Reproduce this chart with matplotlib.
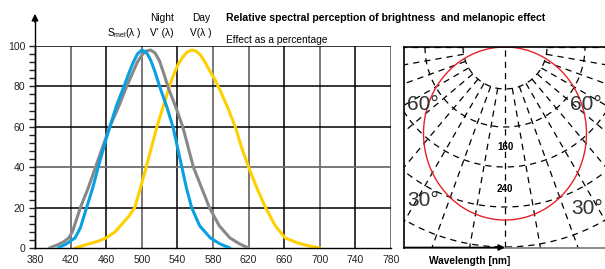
import numpy as np
import matplotlib.pyplot as plt

plt.rcParams['font.family'] = ['Liberation Sans', 'DejaVu Sans']

# spectral curves (wavelength nm, relative %)
mel_wl = [406, 415, 425, 431, 438, 445, 451, 458, 464, 472, 480, 485, 490, 495, 500, 505, 510, 515, 520, 528, 535, 540, 545, 550, 556, 565, 577, 588, 599]
mel_val = [0, 2, 5, 10, 20, 30, 40, 51, 60, 71, 80, 86, 91.5, 96, 98, 97, 93, 87, 80, 70, 60, 50, 40, 30, 20, 11, 5, 2, 0]

night_wl = [396, 405, 412, 418, 422, 431, 440, 448, 456, 464, 474, 483, 490, 495, 500, 505, 510, 515, 520, 525, 530, 538, 546, 552, 558, 567, 576, 587, 599, 610, 620]
night_val = [0, 1.5, 3, 5, 8, 20, 30, 40, 50, 60, 70, 80, 87, 92, 95.5, 97.5, 98, 96.5, 92.5, 86, 79, 70, 60, 50, 40, 30, 20, 11, 5, 2, 0]

day_wl = [425, 440, 452, 460, 470, 478, 486, 492, 498, 505, 511, 517, 524, 531, 536, 541, 546, 551, 556, 561, 566, 571, 576, 582, 588, 597, 605, 612, 620, 629, 639, 650, 661, 675, 688, 700]
day_val = [0, 2, 3.5, 5, 8, 12, 16, 20, 29, 40, 50, 60, 70, 80, 86, 91, 94.5, 97, 98, 97.5, 95.5, 92, 88, 83.5, 78, 69, 60, 50, 40, 30, 20, 11, 5, 2.5, 1, 0]

x_ticks = list(range(380, 781, 40))
y_ticks = list(range(0, 101, 20))
grey_vlines = [420, 500, 580, 620, 700, 780]
black_vlines = [460, 540, 660, 740]
grey_hlines = [40]
black_hlines = [20, 60, 80, 100]

# polar diagram (right panel)
polar_angles = [a for a in range(-90, 91, 10) if a != 0]
polar_radii = [42, 80, 120, 160, 200]
polar_labels = ['160', '240']

W, H = 605, 269
fig = plt.figure(figsize=(W / 100, H / 100), dpi=100)

ax = fig.add_axes([35 / W, 21 / H, 356 / W, 202 / H])
ax.set_xlim(380, 780)
ax.set_ylim(0, 100)
for s in ['top', 'right']:
    ax.spines[s].set_visible(False)
ax.spines['left'].set_linewidth(1)
ax.spines['bottom'].set_linewidth(1)

ax.vlines(grey_vlines, 0, 100, color='#6e6e6e', lw=1.3, zorder=1)
ax.vlines(black_vlines, 0, 100, color='black', lw=1.1, zorder=1)
ax.hlines(grey_hlines, 380, 780, color='#6e6e6e', lw=1.3, zorder=1)
ax.hlines(black_hlines, 380, 780, color='black', lw=1.1, zorder=1)

ax.plot(night_wl, night_val, color='#888888', lw=2.2, solid_capstyle='round', solid_joinstyle='round', zorder=3)
ax.plot(mel_wl, mel_val, color='#0a9fe0', lw=2.2, solid_capstyle='round', solid_joinstyle='round', zorder=4)
ax.plot(day_wl, day_val, color='#ffd000', lw=2.2, solid_capstyle='round', solid_joinstyle='round', zorder=2)

ax.set_xticks(x_ticks)
ax.set_yticks(y_ticks)
ax.set_yticks(np.arange(0, 101, 4), minor=True)
ax.tick_params(axis='x', length=0, pad=5, labelsize=7.5, colors='#222222')
ax.tick_params(axis='y', which='both', length=4, width=1, pad=3, labelsize=7.5, colors='#222222')
ax.tick_params(axis='y', which='minor', labelleft=False)

# y axis arrow
fig.add_artist(plt.Line2D([35 / W, 35 / W], [(H - 248) / H, (H - 20) / H], color='black', lw=1))
ax.annotate('', xy=(35, H - 11), xytext=(35, H - 25), xycoords='figure pixels', textcoords='figure pixels',
            arrowprops=dict(arrowstyle='-|>', color='black', lw=1, mutation_scale=10))

fs = 7.3
fig.text(226 / W, 1 - 18 / H, 'Relative spectral perception of brightness  and melanopic effect',
         fontsize=7.6, fontweight='bold', va='center', ha='left')
fig.text(226 / W, 1 - 40 / H, 'Effect as a percentage', fontsize=fs, va='center', ha='left')
fig.text(162 / W, 1 - 18 / H, 'Night', fontsize=fs, va='center', ha='center')
fig.text(162 / W, 1 - 33 / H, "V' (λ)", fontsize=fs, va='center', ha='center')
fig.text(201 / W, 1 - 18 / H, 'Day', fontsize=fs, va='center', ha='center')
fig.text(201 / W, 1 - 33 / H, 'V(λ )', fontsize=fs, va='center', ha='center')
fig.text(124 / W, 1 - 33 / H, r'S$_{\mathregular{mel}}$(λ )', fontsize=fs, va='center', ha='center')
fig.text(470 / W, 1 - 261 / H, 'Wavelength [nm]', fontsize=7.3, fontweight='bold', va='center', ha='center')

# right panel
pax = fig.add_axes([404 / W, 21 / H, 201 / W, 201 / H])
pax.set_xlim(-101, 100)
pax.set_ylim(-201, 0)
pax.set_xticks([])
pax.set_yticks([])
for s in ['right', 'bottom']:
    pax.spines[s].set_visible(False)
pax.spines['left'].set_linewidth(1.2)
pax.spines['top'].set_linewidth(1.2)

dash = (0, (5, 4))
pax.plot([0, 0], [-3, -201], color='black', lw=0.9, ls=dash)
for a in polar_angles:
    t = np.radians(a)
    pax.plot([42 * np.sin(t), 300 * np.sin(t)], [-42 * np.cos(t), -300 * np.cos(t)],
             color='black', lw=0.9, ls=dash)
th = np.radians(np.linspace(-90, 90, 200))
for r in polar_radii:
    pax.plot(r * np.sin(th), -r * np.cos(th), color='black', lw=0.9, ls=dash)

# red cosine distribution
phi = np.linspace(0, 2 * np.pi, 300)
rx, ry = 81.5, 86.5
pax.plot(rx * np.sin(phi), -ry + ry * np.cos(phi), color='#e8202a', lw=1)

pax.text(0, -100, polar_labels[0], fontsize=7, fontweight='bold', ha='center', va='center')
pax.text(0, -142, polar_labels[1], fontsize=7, fontweight='bold', ha='center', va='center')
for x, y, lab in [(-82, -58, '60°'), (81, -58, '60°'), (-82, -154, '30°'), (82, -162, '30°')]:
    pax.text(x, y, lab, fontsize=15, color='#333333', ha='center', va='center')

pax.plot([-101, 100], [-200.5, -200.5], color='#777777', lw=1.2, clip_on=False)
pax.annotate('', xy=(0, -200.5), xytext=(-101, -200.5),
             arrowprops=dict(arrowstyle='-|>', color='black', lw=1.2, mutation_scale=9, shrinkA=0, shrinkB=0),
             annotation_clip=False)

fig.savefig('out.png', dpi=100)
